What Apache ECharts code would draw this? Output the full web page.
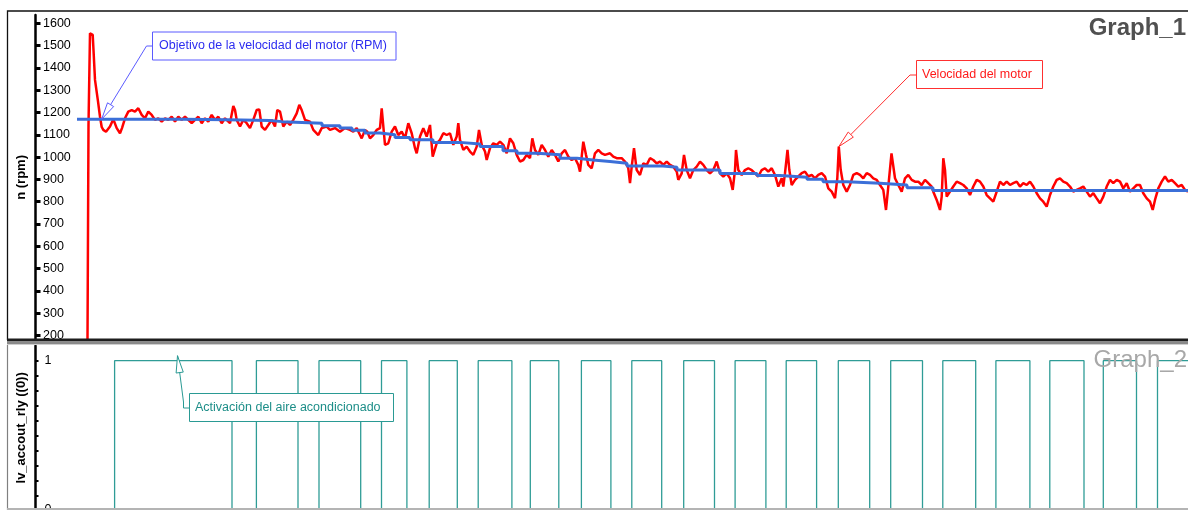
<!DOCTYPE html>
<html>
<head>
<meta charset="utf-8">
<script src="https://cdn.jsdelivr.net/npm/echarts@6/dist/echarts.min.js"></script>
<style>
  html, body { margin: 0; padding: 0; background: #fff; }
  #chart { width: 1188px; height: 510px; }
</style>
</head>
<body>
<div id="chart"></div>
<script>
// Measured motor speed: [time, rpm]
const motorSpeed = [
  [10.5,185],[11.5,1144],[13,1555],[14.5,1562],[15.7,1548],[16.5,1480],[18,1346],[19.7,1346],[21,1250],[23,1181],
  [24.7,1135],[26.3,1122],[29,1114],[33,1137],[36.3,1170],[39.7,1130],[43,1107],[45,1130],[48,1174],[51.3,1204],
  [54.7,1211],[58,1204],[61.3,1219],[64.7,1189],[68,1174],[71.3,1204],[74.7,1189],[78,1167],[81.3,1174],[84.7,1159],
  [88,1174],[91.3,1167],[94.7,1181],[98,1159],[101.3,1181],[104.7,1167],[108,1181],[111.3,1167],[114.7,1152],[118,1167],
  [121.3,1181],[124.7,1152],[128,1174],[131.3,1159],[134.7,1189],[138,1167],[141.3,1181],[144.7,1152],[148,1174],[153,1152],
  [156.3,1229],[158,1211],[159.7,1167],[163,1137],[166.3,1167],[169.7,1152],[173,1130],[176.3,1167],[179.7,1211],[182.3,1214],
  [184.7,1137],[188,1122],[191.3,1144],[194.7,1167],[198,1137],[200.3,1211],[203,1204],[206.3,1137],[209.7,1159],[213,1144],
  [216.3,1167],[219.7,1196],[222.3,1234],[224.7,1211],[228,1167],[233,1159],[236.3,1122],[241.3,1099],[244.7,1130],[249.7,1137],
  [253,1122],[258,1130],[263,1114],[268,1130],[273,1122],[276.3,1114],[279.7,1130],[283,1099],[284.7,1084],[288,1122],
  [290.3,1114],[293,1084],[296.3,1099],[299.7,1122],[303,1130],[304.7,1219],[308,1055],[311.3,1062],[314.7,1114],[318,1137],
  [321.3,1099],[324.7,1114],[328,1084],[331.3,1152],[334.7,1107],[338,1040],[339.7,1017],[343,1092],[346.3,1129],[349.7,1092],
  [353,1144],[355.7,1002],[359.7,1062],[363,1077],[366.3,1107],[369.7,1099],[373,1107],[376.3,1055],[379.7,1092],[381.3,1152],
  [383,1077],[386.3,1032],[389.7,1047],[393,1025],[396.3,1010],[399.7,1047],[402,1122],[404.7,1055],[408,1025],[409.7,987],
  [413,1040],[416.3,1062],[419.7,1055],[423,1069],[426.3,1055],[429.7,1017],[433,1084],[436.3,1062],[439.7,1010],[443,980],
  [446.3,987],[449.7,1010],[453,995],[455.3,1084],[458,1032],[461.3,1010],[464.7,1055],[468,1032],[471.3,1002],[474.7,1032],
  [478,1010],[481.3,980],[484.7,1017],[488,1032],[491.3,1002],[494.7,987],[498,995],[501.3,965],[503,935],[504.7,1002],
  [506.3,1069],[509,1010],[511.3,965],[514.7,950],[518,1017],[521.3,1032],[524.7,1017],[528,1010],[533,1017],[536.3,1002],
  [539.7,995],[544.7,995],[548,980],[551.3,950],[553,883],[554.7,957],[557,1040],[559.7,942],[563,920],[566.3,972],
  [569.7,965],[573,995],[576.3,987],[579.7,972],[583,980],[586.3,965],[589.7,980],[593,965],[596.3,957],[599.7,935],
  [601.3,898],[604.7,927],[607,1010],[609.7,942],[613,905],[616.3,942],[619.7,957],[623,980],[626.3,965],[629.7,942],
  [633,927],[636.3,942],[639.7,980],[643,927],[646.3,913],[649.7,927],[653,905],[655.7,853],[658,942],[659,1032],
  [661.3,942],[664.7,920],[668,942],[671.3,950],[674.7,942],[678,927],[681.3,913],[684.7,942],[688,950],[691.3,935],
  [694.7,950],[698,920],[701.3,868],[703,868],[704.7,905],[706.3,868],[708,928],[710.5,1032],[712.3,943],[714.7,875],
  [718,898],[721.3,913],[724.7,928],[728,935],[731.3,913],[734.7,920],[738,905],[741.3,920],[744.7,928],[748,913],
  [751.3,860],[754.7,845],[758,816],[760.3,905],[761.8,1047],[763.7,943],[766.3,875],[769.7,845],[773,875],[776.3,920],
  [779.7,928],[783,920],[786.3,905],[789.7,928],[793,920],[796.3,905],[799.7,898],[803,875],[806.3,853],[809,763],
  [811.3,868],[814.5,1017],[818,905],[821.3,875],[824.7,845],[828,905],[831.3,920],[834.7,898],[838,890],[841.3,890],
  [844.7,875],[848,898],[851.3,883],[854.7,868],[856.3,845],[859.7,808],[863,763],[864.7,823],[866.3,995],[868,943],
  [869.7,823],[873,845],[876.3,868],[879.7,890],[883,883],[886.3,875],[889.7,860],[893,830],[896.3,868],[899.7,898],
  [903,890],[906.3,868],[909.7,830],[913,815],[916.3,800],[919.7,845],[923,890],[926.3,875],[929.7,890],[933,875],
  [936.3,883],[939.7,890],[943,868],[946.3,883],[949.7,875],[953,890],[956.3,868],[959.7,838],[963,815],[966.3,800],
  [969.7,778],[973,830],[976.3,868],[979.7,898],[983,905],[986.3,890],[989.7,883],[993,868],[996.3,845],[999.7,853],
  [1003,860],[1006.3,868],[1009.7,845],[1013,823],[1016.3,838],[1019.7,815],[1023,793],[1026.3,823],[1029.7,868],[1033,898],
  [1036.3,883],[1039.7,898],[1043,890],[1046.3,860],[1049.7,883],[1053,845],[1056.3,860],[1059.7,875],[1063,875],[1066.3,838],
  [1069.7,815],[1073,800],[1075.7,763],[1078,808],[1081.3,860],[1084.7,890],[1088,913],[1091.3,890],[1094.7,898],[1098,883],
  [1101.3,868],[1104.7,875],[1108,853],[1111,845]
];

// Speed set-point (stepped): time where each level starts, and the level
const targetTime = [0,106,150,193,205,245,263,275,288,303,318,333,356,383,403,426,440,460,483,500,516,533,550,586,600,643,680,703,730,746,770,803,830,856,1111];
const targetRpm  = [1170,1167,1164,1159,1152,1140,1130,1120,1108,1100,1088,1078,1066,1059,1047,1029,1017,1010,995,987,980,972,960,954,942,927,917,910,901,890,883,875,863,850,850];

// A/C relay switching instants
const relayOnTime  = [37.6,179.4,242,304.5,352.2,401.2,453.3,504.4,554.8,606.7,658.1,709.2,761.3,813.7,865.8,918.9,972.8,1026.3,1080.5];
const relayOffTime = [155,221,283.7,329.9,380.3,434.9,481.8,533.9,584.7,637.5,688.9,739.6,792.7,845.5,898.7,952.9,1007,1059.5];

// Axis tick values
const rpmTicks = [200,300,400,500,600,700,800,900,1000,1100,1200,1300,1400,1500,1600];
const relayTicks = [0.1,0.2,0.3,0.4,0.5,0.6,0.7,0.8,0.9,1];

const T_END = 1111;
const RELAY_MIN = 0.005;   // lower edge of the relay panel (0 sits just below it)
const FONT = 'Liberation Sans, Arial, sans-serif';

const targetData = targetTime.map((t, i) => [t, targetRpm[i]]);
const relayData = [[0, 0]];
relayOnTime.forEach((on, i) => {
  relayData.push([on, 1]);
  if (i < relayOffTime.length) relayData.push([relayOffTime[i], 0]);
});
relayData.push([T_END, 1]);

const chart = echarts.init(document.getElementById('chart'), null, { renderer: 'canvas' });

const baseY = {
  type: 'value',
  position: 'left',
  offset: 41.5,
  splitLine: { show: false },
  axisLine: { show: true, onZero: false, lineStyle: { color: '#000', width: 2.5 } },
  nameLocation: 'middle',
  nameRotate: 90,
  nameGap: 7,
  nameTextStyle: { fontFamily: FONT, fontWeight: 'bold', fontSize: 13, color: '#000' }
};

chart.setOption({
  animation: false,
  backgroundColor: '#fff',
  grid: [
    { left: 77, right: 0, top: 15, height: 324.8, containLabel: false, outerBoundsMode: 'none' },
    { left: 77, right: 0, top: 345.7, bottom: 0, containLabel: false, outerBoundsMode: 'none' }
  ],
  xAxis: [
    { type: 'value', gridIndex: 0, min: 0, max: T_END, show: false },
    { type: 'value', gridIndex: 1, min: 0, max: T_END, show: false }
  ],
  yAxis: [
    Object.assign({}, baseY, {
      gridIndex: 0, min: 181, max: 1637, name: 'n (rpm)',
      axisTick: { inside: true, length: 5, customValues: rpmTicks, lineStyle: { color: '#000', width: 3 } },
      axisLabel: { inside: true, margin: 7.5, customValues: rpmTicks, fontFamily: FONT, fontSize: 12.5, color: '#000',
                   formatter: v => String(v) }
    }),
    Object.assign({}, baseY, {
      gridIndex: 1, min: RELAY_MIN, max: 1.1, name: 'lv_accout_rly ((0))',
      axisTick: { inside: true, length: 3, customValues: relayTicks, lineStyle: { color: '#000', width: 2 } },
      axisLabel: { inside: true, margin: 9, customValues: [RELAY_MIN, 1], fontFamily: FONT, fontSize: 12.5, color: '#000',
                   formatter: v => (v > 0.5 ? '1' : '0') }
    })
  ],
  series: [
    {
      name: 'Velocidad del motor', type: 'line', xAxisIndex: 0, yAxisIndex: 0,
      data: motorSpeed, showSymbol: false, symbol: 'none',
      lineStyle: { color: '#ff0000', width: 2.5 }, z: 2
    },
    {
      name: 'Objetivo de la velocidad del motor (RPM)', type: 'line', xAxisIndex: 0, yAxisIndex: 0,
      data: targetData, step: 'end', showSymbol: false, symbol: 'none',
      lineStyle: { color: '#3b6fd8', width: 3 }, z: 3
    },
    {
      name: 'Activación del aire acondicionado', type: 'line', xAxisIndex: 1, yAxisIndex: 1,
      data: relayData, step: 'end', showSymbol: false, symbol: 'none',
      lineStyle: { color: '#2f9c96', width: 1.3 }, z: 2
    }
  ]
});

// Callouts: the arrow tips are placed on data through the axes
const px1 = p => chart.convertToPixel({ xAxisIndex: 0, yAxisIndex: 0 }, p);
const px2 = p => chart.convertToPixel({ xAxisIndex: 1, yAxisIndex: 1 }, p);

function arrowHead(from, tip, L, w) {
  const dx = tip[0] - from[0], dy = tip[1] - from[1];
  const len = Math.hypot(dx, dy);
  const ux = dx / len, uy = dy / len;
  const bx = tip[0] - ux * L, by = tip[1] - uy * L;
  const nx = -uy, ny = ux;
  return [[tip[0], tip[1]], [bx + nx * w, by + ny * w], [bx - nx * w, by - ny * w]];
}

function callout(box, text, colors, leader, tip) {
  const pts = leader.concat([tip]);
  const from = leader[leader.length - 1];
  return [
    { type: 'polyline', z: 120, shape: { points: pts }, style: { stroke: colors.line, lineWidth: 1, fill: null } },
    { type: 'polygon', z: 121, shape: { points: arrowHead(from, tip, 17, 3.6) }, style: { stroke: colors.line, lineWidth: 1, fill: '#fff' } },
    { type: 'rect', z: 120, shape: { x: box.x, y: box.y, width: box.w, height: box.h },
      style: { fill: '#fff', stroke: colors.line, lineWidth: 1 } },
    { type: 'text', z: 122, x: box.x + box.pad, y: box.y + box.h / 2,
      style: { text: text, fill: colors.text, font: '12.5px ' + FONT, textAlign: 'left', textVerticalAlign: 'middle' } }
  ];
}

const peak = motorSpeed.reduce((a, b) => (b[0] > 700 && b[1] > a[1] ? b : a), [0, 0]);
const tipTarget = px1([24.7, targetRpm[0]]);
const tipSpeed = px1(peak);
const relayTip = px2([100.5, 1]);
const tipRelay = [relayTip[0], relayTip[1] - 5];

const graphics = [].concat(
  callout({ x: 152.5, y: 32, w: 243.5, h: 28, pad: 6.5 }, 'Objetivo de la velocidad del motor (RPM)',
          { line: '#5b5bff', text: '#2d2df0' }, [[152.5, 46], [146.5, 46]], tipTarget),
  callout({ x: 916.5, y: 60.5, w: 126, h: 28, pad: 5.5 }, 'Velocidad del motor',
          { line: '#ff3030', text: '#ff1a1a' }, [[916.5, 75], [910, 75]], tipSpeed),
  callout({ x: 189.5, y: 393.5, w: 204, h: 28, pad: 5.5 }, 'Activación del aire acondicionado',
          { line: '#2a9a94', text: '#1d8e88' }, [[189.5, 408], [183.5, 408], [183.5, 402]], tipRelay),
  [
    // panel frames
    { type: 'polyline', z: 110, shape: { points: [[7.5, 340], [7.5, 11], [1188, 11]] }, style: { stroke: '#111', lineWidth: 1.3, fill: null } },
    { type: 'rect', z: 110, shape: { x: 7, y: 338.5, width: 1181, height: 3 }, style: { fill: '#1e1e1e' } },
    { type: 'rect', z: 110, shape: { x: 7, y: 341.5, width: 1181, height: 2.5 }, style: { fill: '#8a8a8a' } },
    { type: 'rect', z: 110, shape: { x: 7, y: 344, width: 1181, height: 1 }, style: { fill: '#cfcfcf' } },
    { type: 'line', z: 110, shape: { x1: 7.5, y1: 345, x2: 7.5, y2: 510 }, style: { stroke: '#808080', lineWidth: 1.2 } },
    { type: 'rect', z: 110, shape: { x: 7, y: 508, width: 1181, height: 2 }, style: { fill: '#b4b4b4' } },
    // panel titles
    { type: 'text', z: 125, x: 1186, y: 28.8,
      style: { text: 'Graph_1', fill: '#505050', font: 'bold 24px ' + FONT, textAlign: 'right', textVerticalAlign: 'middle' } },
    { type: 'text', z: 125, x: 1187, y: 360.5,
      style: { text: 'Graph_2', fill: '#a8a8a8', font: '24px ' + FONT, textAlign: 'right', textVerticalAlign: 'middle' } }
  ]
);

chart.setOption({ graphic: graphics });
</script>
</body>
</html>
